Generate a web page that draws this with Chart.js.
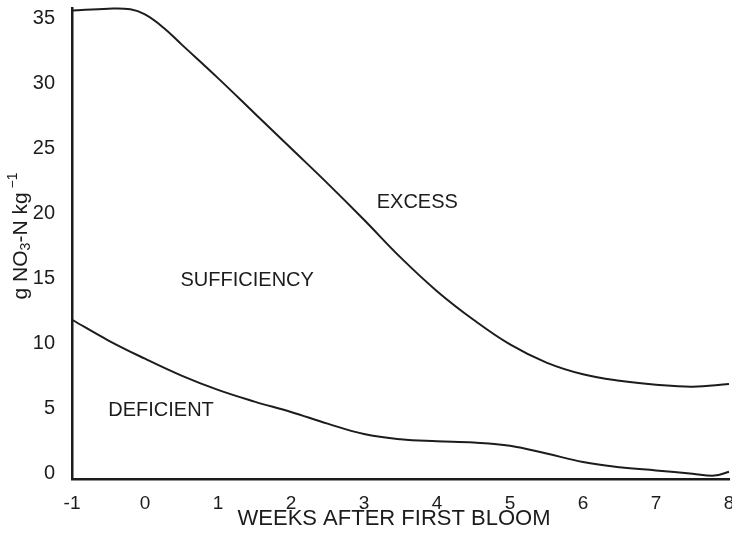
<!DOCTYPE html>
<html>
<head>
<meta charset="utf-8">
<script src="https://cdn.jsdelivr.net/npm/chart.js@4.4.1/dist/chart.umd.min.js"></script>
<style>
  html, body { margin: 0; padding: 0; background: #fff; }
  #wrap { width: 732px; height: 533px; position: relative; }
</style>
</head>
<body>
<div id="wrap"><canvas id="myChart"></canvas></div>
<script>
// weeks after first bloom (x) and NO3-N limits (y)
var excessWeeks = [-1, -0.5, -0.2, 0, 0.25, 0.5, 1, 1.5, 2, 2.5, 3, 3.5, 4, 4.5, 5, 5.5, 6, 6.5, 7, 7.5, 8];
var excessLimit = [35.6, 35.75, 35.7, 35.3, 34.3, 33.0, 30.4, 27.7, 25.0, 22.3, 19.5, 16.6, 14.0, 11.8, 9.9, 8.5, 7.6, 7.1, 6.8, 6.65, 6.85];

var deficientWeeks = [-1, -0.5, 0, 0.5, 1, 1.5, 2, 2.5, 3, 3.5, 4, 4.5, 5, 5.5, 6, 6.5, 7, 7.5, 7.8, 8];
var deficientLimit = [11.8, 10.2, 8.8, 7.5, 6.4, 5.5, 4.7, 3.8, 3.0, 2.6, 2.45, 2.35, 2.1, 1.5, 0.85, 0.45, 0.2, -0.05, -0.2, 0.1];

var xTicks = [-1, 0, 1, 2, 3, 4, 5, 6, 7, 8];
var yTicks = [0, 5, 10, 15, 20, 25, 30, 35];

var regionNames = ['EXCESS', 'SUFFICIENCY', 'DEFICIENT'];
var regionWeek = [3.73, 1.4, 0.22];
var regionValue = [20.8, 14.85, 4.85];

var FONT = '"Liberation Sans", Arial, Helvetica, sans-serif';
var INK = '#1c1c1c';

function toPoints(xs, ys) {
    return xs.map(function (x, i) { return { x: x, y: ys[i] }; });
}

// region names placed in data coordinates
var regionLabels = {
    id: 'regionLabels',
    afterDatasetsDraw: function (chart) {
        var ctx = chart.ctx;
        var sx = chart.scales.x, sy = chart.scales.y;
        ctx.save();
        ctx.fillStyle = INK;
        ctx.font = '20px ' + FONT;
        ctx.textAlign = 'center';
        ctx.textBaseline = 'middle';
        regionNames.forEach(function (name, i) {
            ctx.fillText(name, sx.getPixelForValue(regionWeek[i]), sy.getPixelForValue(regionValue[i]));
        });
        ctx.restore();
    }
};

// y title with subscript / superscript
var yTitle = {
    id: 'yTitle',
    afterDraw: function (chart) {
        var ctx = chart.ctx;
        var parts = [
            { t: 'g NO', size: 21, dy: 0 },
            { t: '3', size: 14, dy: 5 },
            { t: '-N kg', size: 21, dy: 0 },
            { t: ' \u2212', size: 14, dy: -8 },
            { t: '1', size: 14, dy: -8 }
        ];
        ctx.save();
        var total = 0;
        parts.forEach(function (p) {
            ctx.font = p.size + 'px ' + FONT;
            p.w = ctx.measureText(p.t).width;
            total += p.w;
        });
        ctx.translate(21, 236);
        ctx.rotate(-Math.PI / 2);
        ctx.fillStyle = INK;
        ctx.textBaseline = 'middle';
        var x = -total / 2;
        parts.forEach(function (p) {
            ctx.font = p.size + 'px ' + FONT;
            ctx.fillText(p.t, x, p.dy);
            x += p.w;
        });
        ctx.restore();
    }
};

// x title drawn centred on the page like the original
var xTitle = {
    id: 'xTitle',
    afterDraw: function (chart) {
        var ctx = chart.ctx;
        ctx.save();
        ctx.fillStyle = INK;
        ctx.font = '22px ' + FONT;
        ctx.textAlign = 'center';
        ctx.textBaseline = 'middle';
        ctx.fillText('WEEKS AFTER FIRST BLOOM', 394, 519);
        ctx.restore();
    }
};

document.addEventListener('DOMContentLoaded', function () {
    var ctx = document.getElementById('myChart').getContext('2d');
    new Chart(ctx, {
        type: 'line',
        data: {
            datasets: [{
                label: 'Excess',
                data: toPoints(excessWeeks, excessLimit),
                borderColor: INK,
                borderWidth: 2,
                pointRadius: 0,
                tension: 0.4,
                clip: false
            }, {
                label: 'Deficient',
                data: toPoints(deficientWeeks, deficientLimit),
                borderColor: INK,
                borderWidth: 2,
                pointRadius: 0,
                tension: 0.4,
                clip: false
            }]
        },
        options: {
            responsive: true,
            maintainAspectRatio: false,
            animation: false,
            layout: { padding: { top: 8, right: 3, left: 0, bottom: 0 } },
            plugins: {
                legend: { display: false },
                tooltip: { enabled: false }
            },
            scales: {
                x: {
                    type: 'linear',
                    min: -1,
                    max: 8,
                    grid: { display: false },
                    border: { display: true, color: INK, width: 2.5 },
                    ticks: {
                        color: INK,
                        padding: 5,
                        font: { family: FONT, size: 19 }
                    },
                    afterBuildTicks: function (axis) {
                        axis.ticks = xTicks.map(function (v) { return { value: v }; });
                    },
                    afterFit: function (axis) {
                        axis.height = 54;
                        axis.paddingLeft = 0;
                        axis.paddingRight = 0;
                    }
                },
                y: {
                    min: -0.46,
                    max: 35.8,
                    grid: { display: false },
                    border: { display: true, color: INK, width: 2.5 },
                    ticks: {
                        color: INK,
                        padding: 9,
                        font: { family: FONT, size: 20 }
                    },
                    afterBuildTicks: function (axis) {
                        axis.ticks = yTicks.map(function (v) { return { value: v }; });
                    },
                    afterFit: function (axis) {
                        axis.width = 72;
                        axis.paddingTop = 0;
                        axis.paddingBottom = 0;
                    }
                }
            }
        },
        plugins: [regionLabels, yTitle, xTitle]
    });
});
</script>
</body>
</html>
